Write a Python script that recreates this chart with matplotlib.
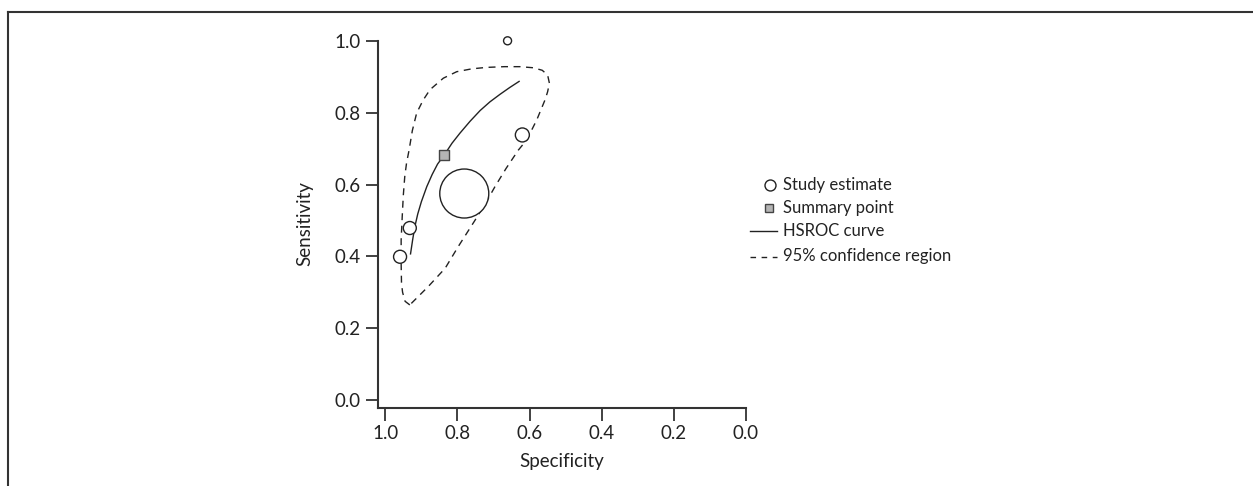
import matplotlib
matplotlib.use('Agg')
import matplotlib.pyplot as plt
from matplotlib.lines import Line2D
import numpy as np

plt.rcParams['font.family'] = ['Lato', 'DejaVu Sans']

# study estimates (specificity, sensitivity, circle diameter in px)
study_spec = [0.661, 0.620, 0.781, 0.932, 0.959]
study_sens = [1.000, 0.738, 0.575, 0.479, 0.399]
study_diam = [8, 14, 49, 13, 13]

# summary point
summ_spec = [0.836]
summ_sens = [0.683]

# HSROC curve
hsroc_spec = [0.930, 0.924, 0.918, 0.910, 0.900, 0.885, 0.870, 0.855, 0.836,
              0.815, 0.793, 0.765, 0.737, 0.710, 0.682, 0.655, 0.629]
hsroc_sens = [0.407, 0.447, 0.483, 0.518, 0.552, 0.594, 0.628, 0.657, 0.683,
              0.715, 0.743, 0.776, 0.806, 0.830, 0.851, 0.870, 0.887]

# 95% confidence region (closed)
conf_spec = [0.932, 0.945, 0.952, 0.955, 0.956, 0.956, 0.953, 0.950, 0.946,
             0.941, 0.934, 0.925, 0.913, 0.895, 0.876, 0.839, 0.802, 0.760,
             0.719, 0.670, 0.627, 0.590, 0.565, 0.550, 0.545, 0.550, 0.557,
             0.580, 0.608, 0.631, 0.665, 0.696, 0.714, 0.751, 0.798, 0.834,
             0.881, 0.918, 0.932]
conf_sens = [0.265, 0.275, 0.300, 0.325, 0.381, 0.446, 0.511, 0.570, 0.622,
             0.660, 0.696, 0.750, 0.799, 0.835, 0.864, 0.896, 0.914, 0.922,
             0.926, 0.928, 0.928, 0.925, 0.918, 0.905, 0.882, 0.858, 0.836,
             0.780, 0.724, 0.696, 0.645, 0.594, 0.562, 0.501, 0.427, 0.367,
             0.316, 0.279, 0.265]

legend_labels = ['Study estimate', 'Summary point', 'HSROC curve',
                 '95% confidence region']

W, H = 1253, 486
fig = plt.figure(figsize=(W / 100, H / 100), dpi=100)
ax = fig.add_axes([377.7 / W, 1 - 407.7 / H, (746 - 377.7) / W, (407.7 - 39) / H])

dark = '#222222'
px2pt = 72 / 100

ax.plot(conf_spec, conf_sens, color=dark, lw=1.0, ls=(0, (5, 4)), zorder=2)
ax.plot(hsroc_spec, hsroc_sens, color=dark, lw=1.0, zorder=2)
ax.scatter(study_spec, study_sens, s=[(d * px2pt) ** 2 for d in study_diam],
           facecolor='white', edgecolor=dark, linewidth=1.0, zorder=3,
           clip_on=False)
ax.scatter(summ_spec, summ_sens, marker='s', s=(10 * px2pt) ** 2,
           facecolor='#b4b4b4', edgecolor='#444444', linewidth=1.0, zorder=4)

ax.set_xlim(1.021, 0.0)
ax.set_ylim(-0.021, 1.005)
ax.set_xticks([1.0, 0.8, 0.6, 0.4, 0.2, 0.0])
ax.set_yticks([0.0, 0.2, 0.4, 0.6, 0.8, 1.0])
ax.set_xticklabels(['1.0', '0.8', '0.6', '0.4', '0.2', '0.0'])
ax.set_yticklabels(['0.0', '0.2', '0.4', '0.6', '0.8', '1.0'])
ax.spines['top'].set_visible(False)
ax.spines['right'].set_visible(False)
for s in ['left', 'bottom']:
    ax.spines[s].set_color('#333333')
    ax.spines[s].set_linewidth(1.5)
ax.spines['left'].set_bounds(-0.021, 1.0)
ax.tick_params(direction='out', length=9, width=1.3, color='#333333',
               labelsize=13.5, labelcolor='#222222', pad=3.5)
ax.set_xlabel('Specificity', fontsize=13.5, color='#222222', labelpad=8)
ax.set_ylabel('Sensitivity', fontsize=13.5, color='#222222', labelpad=15)

# legend, drawn by hand
leg_y = [185, 208, 231.5, 256.5]
fig.add_artist(Line2D([770 / W], [1 - leg_y[0] / H], marker='o', ms=11 * px2pt,
                      mfc='white', mec=dark, mew=1.0, transform=fig.transFigure))
fig.add_artist(Line2D([769 / W], [1 - leg_y[1] / H], marker='s', ms=8.5 * px2pt,
                      mfc='#b4b4b4', mec='#444444', mew=1.0, transform=fig.transFigure))
fig.add_artist(Line2D([750 / W, 777 / W], [1 - leg_y[2] / H] * 2, color=dark,
                      lw=1.0, transform=fig.transFigure))
fig.add_artist(Line2D([750 / W, 777 / W], [1 - leg_y[3] / H] * 2, color=dark,
                      lw=1.0, ls=(0, (4, 4)), transform=fig.transFigure))
for lab, yy in zip(legend_labels, leg_y):
    fig.text(783 / W, 1 - yy / H, lab, fontsize=12, color='#222222',
             va='center', ha='left')

# frame lines (top and left)
fig.add_artist(Line2D([8 / W, 1.0], [1 - 12 / H] * 2, color='#333333', lw=1.5,
                      transform=fig.transFigure))
fig.add_artist(Line2D([8 / W] * 2, [1 - 12 / H, 0.0], color='#333333', lw=1.5,
                      transform=fig.transFigure))

fig.savefig('out.png', dpi=100)
